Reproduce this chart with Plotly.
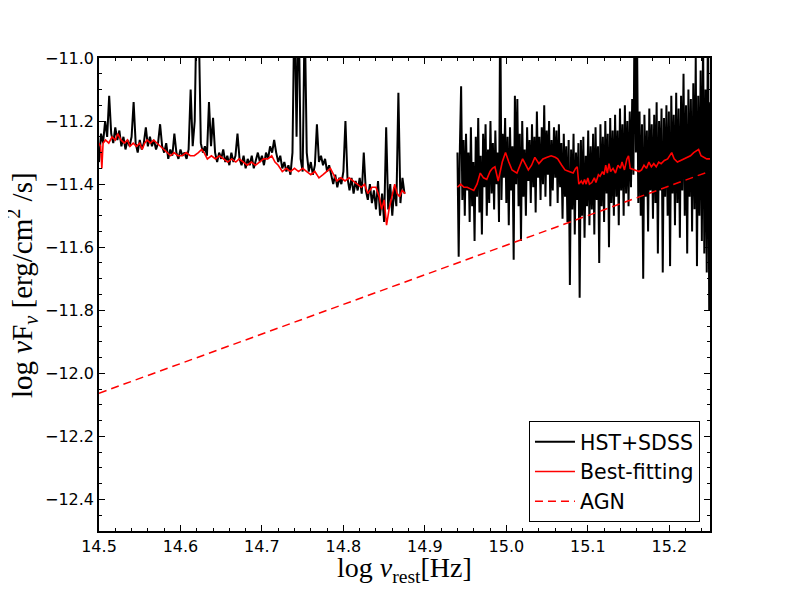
import numpy as np
import plotly.graph_objects as go

# ---------------- data ----------------
# HST+SDSS optical part: sampled every 0.0025 in log nu starting at 14.5
opt_start, opt_step = 14.5, 0.0025
opt_flux = [
    -11.33, -11.24, -11.27, -11.20, -11.25, -11.12, -11.24, -11.27, -11.22, -11.26,
    -11.23, -11.28, -11.25, -11.29, -11.26, -11.28, -11.25, -11.14, -11.27, -11.30,
    -11.26, -11.29, -11.27, -11.22, -11.28, -11.25, -11.28, -11.26, -11.29, -11.27,
    -11.21, -11.28, -11.30, -11.27, -11.32, -11.29, -11.31, -11.24, -11.30, -11.32,
    -11.29, -11.31, -11.30, -11.32, -11.29, -11.10, -11.28, -11.20, -10.80, -10.90,
    -11.27, -11.30, -11.28, -11.31, -11.14, -11.28, -11.19, -11.30, -11.33, -11.30,
    -11.32, -11.29, -11.33, -11.31, -11.34, -11.30, -11.33, -11.31, -11.24, -11.32,
    -11.34, -11.31, -11.35, -11.32, -11.34, -11.31, -11.35, -11.32, -11.30, -11.33,
    -11.31, -11.34, -11.30, -11.32, -11.28, -11.30, -11.26, -11.30, -11.33, -11.31,
    -11.35, -11.33, -11.36, -11.34, -11.37, -11.30, -10.80, -11.25, -10.80, -11.32,
    -11.36, -10.85, -11.30, -11.36, -11.33, -11.37, -11.34, -11.21, -11.33, -11.31,
    -11.34, -11.32, -11.36, -11.34, -11.37, -11.40, -11.37, -11.41, -11.38, -11.40,
    -11.36, -11.20, -11.38, -11.42, -11.38, -11.43, -11.39, -11.42, -11.38, -11.43,
    -11.30, -11.42, -11.45, -11.40, -11.46, -11.42, -11.48, -11.39, -11.50, -11.43,
    -11.52, -11.22, -11.48, -11.40, -11.50, -11.41, -11.47, -11.11, -11.46, -11.38,
    -11.43,
]

# HST+SDSS UV part: sampled every 0.0015 in log nu starting at 14.94
uv_start, uv_step = 14.94, 0.0015
uv_flux = [
    -11.30, -11.63, -11.28, -11.09, -11.45, -11.26, -11.50, -11.24, -11.42, -11.30,
    -11.52, -11.22, -11.47, -11.33, -11.58, -11.25, -11.44, -11.19, -11.49, -11.31,
    -11.56, -11.24, -11.41, -11.21, -11.50, -11.29, -11.46, -11.20, -11.43, -11.27,
    -11.48, -11.23, -11.40, -11.30, -11.52, -10.80, -11.45, -11.24, -11.38, -11.19,
    -11.46, -11.25, -11.53, -11.22, -11.42, -11.28, -11.64, -11.12, -11.40, -11.13,
    -11.47, -11.24, -11.58, -11.20, -11.44, -11.29, -11.50, -11.22, -11.39, -11.26,
    -11.46, -11.21, -11.41, -11.25, -11.49, -11.17, -11.38, -11.25, -11.45, -11.22,
    -11.40, -11.15, -11.44, -11.23, -11.37, -11.20, -11.47, -11.26, -11.42, -11.22,
    -11.38, -11.23, -11.46, -11.21, -11.41, -11.27, -11.51, -11.24, -11.44, -11.28,
    -11.52, -11.26, -11.72, -11.29, -11.48, -11.24, -11.56, -11.30, -11.45, -11.27,
    -11.76, -11.26, -11.50, -11.25, -11.57, -11.31, -11.47, -11.23, -11.53, -11.28,
    -11.48, -11.24, -11.56, -11.22, -11.45, -11.28, -11.65, -11.21, -11.47, -11.25,
    -11.52, -11.20, -11.43, -11.24, -11.60, -11.19, -11.46, -11.23, -11.50, -11.18,
    -11.44, -11.23, -11.53, -11.16, -11.42, -11.21, -11.50, -11.15, -11.43, -11.20,
    -11.47, -11.17, -11.41, -11.13, -11.37, -10.80, -11.30, -10.95, -11.46, -11.17,
    -11.50, -11.21, -11.70, -11.18, -11.44, -11.23, -11.55, -11.16, -11.42, -11.21,
    -11.51, -11.18, -11.46, -11.14, -11.62, -11.20, -11.42, -11.16, -11.68, -11.19,
    -11.44, -11.15, -11.50, -11.17, -11.66, -11.12, -11.43, -11.18, -11.53, -11.11,
    -11.46, -11.16, -11.57, -11.12, -11.42, -11.05, -11.50, -11.15, -11.62, -11.10,
    -11.44, -11.13, -11.55, -11.08, -11.48, -11.00, -11.66, -11.12, -11.50, -11.04,
    -11.58, -10.92, -11.62, -11.10, -11.68, -10.80, -11.80, -11.14, -11.56, -11.22,
]

# Best-fitting model, optical part
fit_opt_x = [
    14.500, 14.502, 14.5035, 14.505, 14.508, 14.512, 14.516, 14.520, 14.523, 14.527,
    14.531, 14.535, 14.538, 14.542, 14.546, 14.550, 14.553, 14.556, 14.559, 14.563,
    14.567, 14.571, 14.575, 14.580, 14.584, 14.588, 14.592, 14.597, 14.602, 14.607,
    14.612, 14.617, 14.622, 14.626, 14.629, 14.633, 14.638, 14.643, 14.648, 14.653,
    14.658, 14.663, 14.668, 14.672, 14.677, 14.682, 14.687, 14.692, 14.697, 14.702,
    14.707, 14.712, 14.716, 14.720, 14.725, 14.730, 14.735, 14.740, 14.745, 14.750,
    14.755, 14.760, 14.765, 14.770, 14.775, 14.780, 14.784, 14.788, 14.792, 14.797,
    14.802, 14.807, 14.812, 14.817, 14.822, 14.826, 14.830, 14.835, 14.840, 14.844,
    14.847, 14.850, 14.853, 14.856, 14.860, 14.863, 14.866, 14.869, 14.872, 14.876,
]
fit_opt_y = [
    -11.27, -11.28, -11.35, -11.27, -11.26, -11.27, -11.25, -11.26, -11.24, -11.26,
    -11.27, -11.26, -11.28, -11.27, -11.28, -11.27, -11.29, -11.27, -11.26, -11.27,
    -11.26, -11.27, -11.28, -11.29, -11.30, -11.31, -11.30, -11.31, -11.31, -11.30,
    -11.31, -11.31, -11.30, -11.29, -11.30, -11.32, -11.31, -11.32, -11.31, -11.32,
    -11.33, -11.32, -11.33, -11.32, -11.33, -11.34, -11.33, -11.34, -11.33, -11.32,
    -11.32, -11.31, -11.33, -11.34, -11.36, -11.35, -11.36, -11.35, -11.36, -11.35,
    -11.36, -11.37, -11.36, -11.38, -11.37, -11.36, -11.35, -11.37, -11.39, -11.38,
    -11.39, -11.38, -11.39, -11.40, -11.41, -11.40, -11.43, -11.41, -11.41, -11.44,
    -11.48, -11.45, -11.53, -11.48, -11.43, -11.40, -11.43, -11.44, -11.42, -11.43,
]

# Best-fitting model, UV part
fit_uv_x = [
    14.940, 14.944, 14.948, 14.952, 14.956, 14.960, 14.964, 14.968, 14.972, 14.976,
    14.980, 14.983, 14.986, 14.990, 14.995, 14.999, 15.003, 15.007, 15.013, 15.017,
    15.020, 15.024, 15.027, 15.031, 15.035, 15.040, 15.045, 15.050, 15.055, 15.060,
    15.063, 15.068, 15.072, 15.077, 15.082, 15.085, 15.087, 15.089, 15.092, 15.094,
    15.096, 15.098, 15.100, 15.102, 15.105, 15.108, 15.110, 15.113, 15.115, 15.118,
    15.120, 15.122, 15.124, 15.126, 15.128, 15.131, 15.134, 15.137, 15.140, 15.142,
    15.145, 15.148, 15.150, 15.152, 15.158, 15.163, 15.166, 15.169, 15.172, 15.175,
    15.178, 15.181, 15.184, 15.187, 15.190, 15.194, 15.198, 15.201, 15.203, 15.206,
    15.210, 15.214, 15.218, 15.222, 15.226, 15.230, 15.234, 15.236, 15.239, 15.242,
    15.246, 15.250,
]
fit_uv_y = [
    -11.41, -11.40, -11.41, -11.41, -11.415, -11.42, -11.40, -11.365, -11.38, -11.385,
    -11.36, -11.35, -11.345, -11.39, -11.33, -11.30, -11.33, -11.355, -11.365, -11.34,
    -11.32, -11.34, -11.355, -11.34, -11.315, -11.335, -11.32, -11.315, -11.31, -11.315,
    -11.32, -11.34, -11.355, -11.36, -11.365, -11.35, -11.345, -11.40, -11.39, -11.40,
    -11.385, -11.40, -11.38, -11.40, -11.395, -11.38, -11.395, -11.37, -11.375, -11.36,
    -11.37, -11.34, -11.365, -11.335, -11.36, -11.35, -11.365, -11.34, -11.35, -11.33,
    -11.355, -11.32, -11.31, -11.35, -11.355, -11.36, -11.355, -11.34, -11.35, -11.33,
    -11.345, -11.335, -11.345, -11.33, -11.335, -11.325, -11.32, -11.31, -11.30, -11.32,
    -11.33, -11.325, -11.32, -11.315, -11.31, -11.30, -11.295, -11.29, -11.31, -11.315,
    -11.32, -11.32,
]

# AGN power law (straight line in log-log)
agn_x = [14.5, 15.25]
agn_y = [-12.063, -11.359]

x_range = [14.5, 15.25]
y_range = [-12.5, -11.0]

# ---------------- build figure ----------------
opt_x = [round(opt_start + opt_step * i, 4) for i in range(len(opt_flux))]
uv_x = [round(uv_start + uv_step * i, 4) for i in range(len(uv_flux))]

obs_x = opt_x + [None] + uv_x
obs_y = opt_flux + [None] + uv_flux
fit_x = fit_opt_x + [None] + fit_uv_x
fit_y = fit_opt_y + [None] + fit_uv_y

fig = go.Figure()
fig.add_trace(go.Scatter(x=obs_x, y=obs_y, mode="lines", name="HST+SDSS",
                         line=dict(color="black", width=2), connectgaps=False))
fig.add_trace(go.Scatter(x=fit_x, y=fit_y, mode="lines", name="Best-fitting",
                         line=dict(color="#ff0000", width=1.6), connectgaps=False))
fig.add_trace(go.Scatter(x=agn_x, y=agn_y, mode="lines", name="AGN",
                         line=dict(color="#ff0000", width=1.5, dash="8px,5px")))

tickfont = dict(family="DejaVu Sans", size=16, color="black")
axis_common = dict(showline=True, linecolor="black", linewidth=1.5, mirror="ticks",
                   ticks="inside", ticklen=6, tickwidth=1.2, tickcolor="black",
                   showgrid=False, zeroline=False, tickfont=tickfont)

fig.update_xaxes(range=x_range, tick0=14.5, dtick=0.1, tickformat=".1f",
                 minor=dict(dtick=0.02, ticks="inside", ticklen=3, tickcolor="black", showgrid=False),
                 **axis_common)
fig.update_yaxes(range=y_range, tick0=-11.0, dtick=0.2, tickformat=".1f",
                 minor=dict(dtick=0.05, ticks="inside", ticklen=3, tickcolor="black", showgrid=False),
                 **axis_common)

serif = dict(family="Liberation Serif", size=28, color="black")
fig.add_annotation(text="log <i>ν</i><sub>rest</sub>[Hz]", xref="paper", yref="paper",
                   x=0.5, y=-0.082, xanchor="center", yanchor="middle",
                   showarrow=False, font=serif)
fig.add_annotation(text="log <i>ν</i>F<sub><i>ν</i></sub> [erg/cm<sup>2</sup> /s]",
                   xref="paper", yref="paper",
                   x=-0.126, y=0.52, xanchor="center", yanchor="middle", textangle=-90,
                   showarrow=False, font=dict(family="Liberation Serif", size=29, color="black"))

fig.update_layout(
    width=773, height=576,
    margin=dict(l=91, r=71, t=50, b=53),
    paper_bgcolor="white", plot_bgcolor="white",
    showlegend=True,
    legend=dict(x=0.9836, y=0.019, xanchor="right", yanchor="bottom",
                bordercolor="black", borderwidth=1, bgcolor="white",
                font=dict(family="DejaVu Sans", size=20.5, color="black"),
                itemwidth=40, tracegroupgap=0),
)

fig.write_html("out.html")
